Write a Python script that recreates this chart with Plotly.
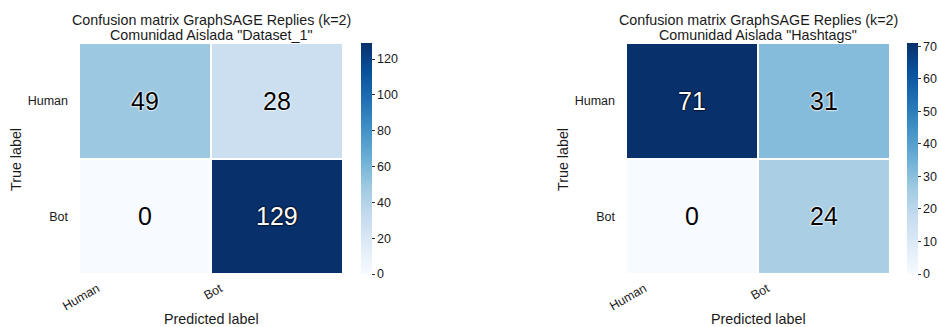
import plotly.graph_objects as go

# ---- data ----
classes = ["Human", "Bot"]
cm_dataset1 = [[49, 28], [0, 129]]
cm_hashtags = [[71, 31], [0, 24]]
title_line1 = "Confusion matrix GraphSAGE Replies (k=2)"
sub_dataset1 = 'Comunidad Aislada "Dataset_1"'
sub_hashtags = 'Comunidad Aislada "Hashtags"'
cb_ticks_left = [0, 20, 40, 60, 80, 100, 120]
cb_ticks_right = [0, 10, 20, 30, 40, 50, 60, 70]

W, H = 939, 327
blues = ['rgb(247,251,255)', 'rgb(222,235,247)', 'rgb(198,219,239)', 'rgb(158,202,225)',
         'rgb(107,174,214)', 'rgb(66,146,198)', 'rgb(33,113,181)', 'rgb(8,81,156)', 'rgb(8,48,107)']
colorscale = [[i / (len(blues) - 1), c] for i, c in enumerate(blues)]
FONT = "Liberation Sans, Arial, sans-serif"
TXT = "#1a1a1a"

fig = go.Figure()

panels = [
    dict(cm=cm_dataset1, sub=sub_dataset1, x0=79, x1=343, cbx=361, ticks=cb_ticks_left, ax=""),
    dict(cm=cm_hashtags, sub=sub_hashtags, x0=626, x1=890, cbx=907, ticks=cb_ticks_right, ax="2"),
]
y_top, y_bot = 43, 274
annotations = []
for p in panels:
    zmax = max(max(r) for r in p["cm"])
    fig.add_trace(go.Heatmap(
        z=p["cm"], x=[0, 1], y=[0, 1],
        xaxis="x" + p["ax"], yaxis="y" + p["ax"],
        colorscale=colorscale, zmin=0, zmax=zmax,
        xgap=2, ygap=2, hoverinfo="skip",
        colorbar=dict(
            x=p["cbx"] / W, xanchor="left", xref="paper",
            y=1 - y_bot / H, yanchor="bottom", len=(y_bot - y_top) / H, lenmode="fraction",
            thickness=11, outlinewidth=0, xpad=0, ypad=0,
            tickvals=p["ticks"], ticks="outside", ticklen=3, tickcolor="#333",
            tickfont=dict(family=FONT, size=12.5, color=TXT),
        ),
    ))
    cx = (p["x0"] + p["x1"]) / 2
    dom = [p["x0"] / W, p["x1"] / W]
    fig.update_layout(**{
        "xaxis" + p["ax"]: dict(domain=dom, range=[-0.5, 1.5], anchor="y" + p["ax"],
                                tickvals=[-0.36, 0.57], ticktext=classes, tickangle=-30,
                                showgrid=False, zeroline=False, showline=False,
                                ticklabelstandoff=4,
                                tickfont=dict(family=FONT, size=12.5, color=TXT)),
        "yaxis" + p["ax"]: dict(domain=[1 - y_bot / H, 1 - y_top / H], range=[1.5, -0.5],
                                anchor="x" + p["ax"],
                                tickvals=[0, 1], ticktext=classes,
                                showgrid=False, zeroline=False, showline=False,
                                ticklabelstandoff=10,
                                tickfont=dict(family=FONT, size=12.5, color=TXT)),
    })
    for i, row in enumerate(p["cm"]):
        for j, v in enumerate(row):
            dark = v > zmax * 0.6
            annotations.append(dict(
                x=j, y=i, xref="x" + p["ax"], yref="y" + p["ax"], text=str(v), showarrow=False,
                font=dict(family=FONT, size=25, color="white" if dark else "black",
                          shadow=("0 0 2px #000, 0 0 2px #000" if dark else
                                  "0 0 2px #fff, 0 0 2px #fff, 0 0 2px #fff")),
            ))
    annotations += [
        dict(x=cx / W, y=1 - 20.5 / H, xref="paper", yref="paper", text=title_line1, showarrow=False,
             xanchor="center", yanchor="middle", font=dict(family=FONT, size=14.3, color=TXT)),
        dict(x=cx / W, y=1 - 34.5 / H, xref="paper", yref="paper", text=p["sub"], showarrow=False,
             xanchor="center", yanchor="middle", font=dict(family=FONT, size=14.3, color=TXT)),
        dict(x=cx / W, y=1 - 319 / H, xref="paper", yref="paper", text="Predicted label", showarrow=False,
             xanchor="center", yanchor="middle", font=dict(family=FONT, size=14.3, color=TXT)),
        dict(x=(p["x0"] - 63) / W, y=1 - 160 / H, xref="paper", yref="paper", text="True label",
             showarrow=False, textangle=-90,
             xanchor="center", yanchor="middle", font=dict(family=FONT, size=14.3, color=TXT)),
    ]

fig.update_layout(
    width=W, height=H, margin=dict(l=0, r=0, t=0, b=0, autoexpand=False),
    paper_bgcolor="white", plot_bgcolor="white",
    annotations=annotations, showlegend=False,
)
fig.write_html("out.html")
